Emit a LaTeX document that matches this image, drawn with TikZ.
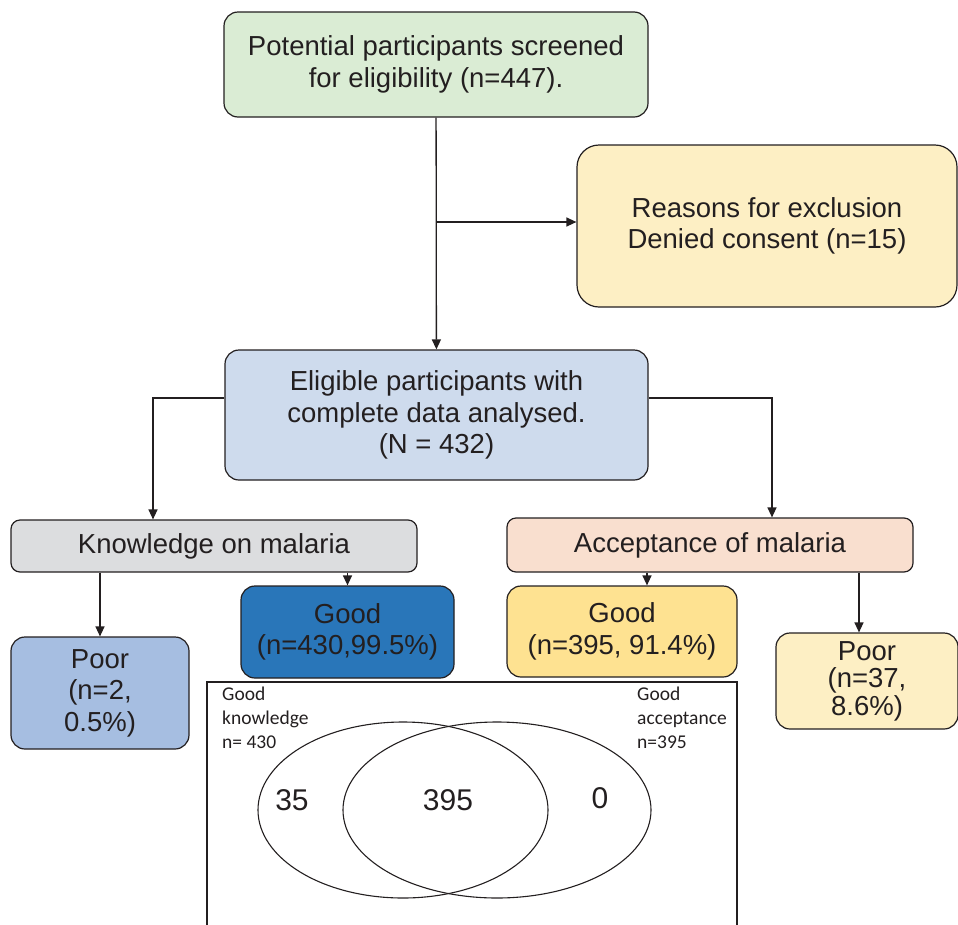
\documentclass[tikz,border=0pt]{standalone}
\usepackage{fontspec}
\setmainfont{Liberation Sans}
\newfontfamily\vennfont{Carlito}
\usetikzlibrary{arrows.meta}
\definecolor{screengreen}{RGB}{218,236,212}
\definecolor{exclyellow}{RGB}{253,239,196}
\definecolor{eligblue}{RGB}{206,219,237}
\definecolor{knowgray}{RGB}{220,221,223}
\definecolor{accpeach}{RGB}{249,223,207}
\definecolor{kpoorblue}{RGB}{166,190,225}
\definecolor{kgoodblue}{RGB}{41,118,185}
\definecolor{agoodyellow}{RGB}{254,226,145}
\definecolor{inkgray}{RGB}{35,31,32}

\begin{document}
\begin{tikzpicture}[x=1pt,y=-1pt,
        box/.style={draw=inkgray, line width=1.2pt, rounded corners=14pt, align=center,
                    inner sep=0pt, text=inkgray, font=\fontsize{27.5}{31.5}\selectfont},
        arr/.style={draw=inkgray, line width=1.3pt, -{Triangle[length=10pt,width=9pt]}},
        vlabel/.style={anchor=north west, align=left, inner sep=0pt, text=inkgray,
                       font=\vennfont\fontsize{19.5}{24}\selectfont},
        vnum/.style={text=inkgray, font=\fontsize{30}{30}\selectfont}]
        \useasboundingbox (0,0) rectangle (958,924);

        \node [box, fill=screengreen, minimum width=424pt, minimum height=105pt] (screen) at (436,64.5)
            {Potential participants screened\\for eligibility (n=447).};
        \node [box, fill=exclyellow, minimum width=380pt, minimum height=162pt, rounded corners=22pt] (excl) at (767,226)
            {Reasons for exclusion\\Denied consent (n=15)};
        \node [box, fill=eligblue, minimum width=423pt, minimum height=130pt] (elig) at (436.5,415)
            {Eligible participants with\\complete data analysed.\\(N = 432)};
        \node [box, fill=knowgray, minimum width=406pt, minimum height=52pt, rounded corners=9pt] (know) at (214,546)
            {Knowledge on malaria};
        \node [box, fill=accpeach, minimum width=406pt, minimum height=54pt, rounded corners=9pt] (acc) at (710,545)
            {Acceptance of malaria};
        \node [box, fill=kpoorblue, minimum width=178pt, minimum height=112pt] (kpoor) at (100,693)
            {Poor\\(n=2,\\0.5\%)};
        \node [box, fill=kgoodblue, minimum width=213pt, minimum height=92pt] (kgood) at (347.5,632)
            {Good\\(n=430,99.5\%)};
        \node [box, fill=agoodyellow, minimum width=230pt, minimum height=91pt] (agood) at (622,631.5)
            {Good\\(n=395, 91.4\%)};
        \node [box, fill=exclyellow, minimum width=182pt, minimum height=96pt,
               font=\fontsize{27.5}{27.5}\selectfont] (apoor) at (867,681)
            {Poor\\(n=37,\\8.6\%)};

        \draw [arr] (screen) -- (elig);
        \draw [arr] ([yshift=4pt]screen.south |- excl.west) -- ([yshift=4pt]excl.west);
        \draw [arr] ([yshift=17pt]elig.west) -| ([xshift=-61pt]know.north);
        \draw [arr] ([yshift=17pt]elig.east) -| ([xshift=62pt]acc.north);
        \draw [arr] (know.south -| kpoor.north) -- (kpoor.north);
        \draw [arr] (know.south -| kgood.north) -- (kgood.north);
        \draw [arr] ([xshift=-63pt]acc.south) -- ([xshift=-63pt]acc.south |- agood.north);
        \draw [arr] ([xshift=-8pt]apoor.north |- acc.south) -- ([xshift=-8pt]apoor.north);

        \draw [inkgray, line width=1.2pt] (207,930) -- (207,682) -- (737,682) -- (737,930);
        \draw [inkgray, line width=1.1pt] (403,810) ellipse [x radius=145pt, y radius=88pt];
        \draw [inkgray, line width=1.1pt] (497,810) ellipse [x radius=154pt, y radius=88pt];
        \node [vlabel] (klabel) at (222,687) {Good\\knowledge\\n= 430};
        \node [vlabel] (alabel) at (637,687) {Good\\acceptance\\n=395};
        \node [vnum] (konly) at (292,800) {35};
        \node [vnum] (both) at (448,800) {395};
        \node [vnum] (aonly) at (600,798) {0};

    \end{tikzpicture}
\end{document}
